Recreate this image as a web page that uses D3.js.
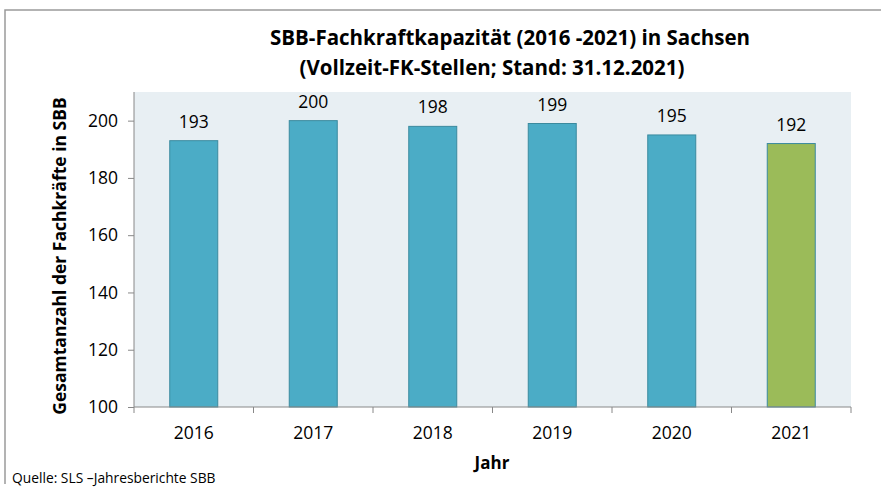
<!DOCTYPE html>
<html>
<head>
<meta charset="utf-8">
<script src="https://cdn.jsdelivr.net/npm/d3@7"></script>
<style>
  body { margin: 0; background: #fff; }
  text { font-family: "Open Sans", sans-serif; fill: #000; }
</style>
</head>
<body>
<svg id="chart" width="881" height="487"></svg>
<script>
// data
const years = ["2016", "2017", "2018", "2019", "2020", "2021"];
const staff = [193, 200, 198, 199, 195, 192];
const yTicks = [100, 120, 140, 160, 180, 200];
const titleLines = ["SBB-Fachkraftkapazität (2016 -2021) in Sachsen", "(Vollzeit-FK-Stellen; Stand: 31.12.2021)"];

const svg = d3.select("#chart");
const plot = { left: 134, right: 851, top: 92, bottom: 407 };

// outer frame (only left + top visible in the crop)
svg.append("path")
  .attr("d", "M5,484V10H881")
  .attr("fill", "none")
  .attr("stroke", "#9a9a9a")
  .attr("stroke-width", 1.5);

let x = d3.scaleBand().domain(years).range([plot.left, plot.right]).paddingInner(0).paddingOuter(0);
let y = d3.scaleLinear().domain([100, 210]).range([plot.bottom, plot.top]);

svg.append("rect")
  .attr("x", plot.left).attr("y", plot.top)
  .attr("width", plot.right - plot.left).attr("height", plot.bottom - plot.top)
  .attr("fill", "#e8eff3");

// bars
const barW = 48;
svg.selectAll(".bar")
  .data(staff)
  .join("rect")
  .attr("class", "bar")
  .attr("x", (d, i) => x(years[i]) + x.bandwidth() / 2 - barW / 2)
  .attr("y", d => y(d))
  .attr("width", barW)
  .attr("height", d => y(100) - y(d))
  .attr("fill", (d, i) => i == years.length - 1 ? "#9bbb59" : "#4bacc6")
  .attr("stroke", "#3b8a9e")
  .attr("stroke-width", 1);

// value labels
svg.selectAll(".val")
  .data(staff)
  .join("text")
  .attr("class", "val")
  .attr("x", (d, i) => x(years[i]) + x.bandwidth() / 2)
  .attr("y", d => y(d) - 13)
  .attr("text-anchor", "middle")
  .style("font-size", "17.5px")
  .text(d => d);

// y axis
const yAxis = svg.append("g")
  .attr("transform", `translate(${plot.left},0)`)
  .call(d3.axisLeft(y).tickValues(yTicks).tickSize(6).tickPadding(10));
yAxis.select(".domain").attr("stroke", "#888").attr("d", `M0,${plot.top}V${plot.bottom}`);
yAxis.selectAll(".tick line").attr("stroke", "#888");
yAxis.selectAll(".tick text").style("font-size", "17.5px").style("font-family", "'Open Sans', sans-serif").attr("fill", "#000");

// x axis: ticks on category boundaries
const xAxis = svg.append("g").attr("transform", `translate(0,${plot.bottom})`);
xAxis.append("line")
  .attr("x1", plot.left).attr("x2", plot.right)
  .attr("stroke", "#888");
const bounds = years.map(d => x(d)).concat([plot.right]);
xAxis.selectAll(".xt")
  .data(bounds)
  .join("line")
  .attr("x1", d => d).attr("x2", d => d)
  .attr("y1", 0).attr("y2", 6)
  .attr("stroke", "#888");
xAxis.selectAll(".xl")
  .data(years)
  .join("text")
  .attr("x", d => x(d) + x.bandwidth() / 2)
  .attr("y", 32)
  .attr("text-anchor", "middle")
  .style("font-size", "17.5px")
  .text(d => d);

// titles
svg.append("text")
  .attr("x", 510).attr("y", 45)
  .attr("text-anchor", "middle")
  .style("font-size", "20.5px").style("font-weight", "bold")
  .text(titleLines[0]);
svg.append("text")
  .attr("x", 492).attr("y", 75)
  .attr("text-anchor", "middle")
  .style("font-size", "20.5px").style("font-weight", "bold")
  .text(titleLines[1]);

svg.append("text")
  .attr("transform", "translate(66,256) rotate(-90)")
  .attr("text-anchor", "middle")
  .style("font-size", "17.5px").style("font-weight", "bold")
  .text("Gesamtanzahl der Fachkräfte in SBB");

svg.append("text")
  .attr("x", 492).attr("y", 469)
  .attr("text-anchor", "middle")
  .style("font-size", "17px").style("font-weight", "bold")
  .text("Jahr");

svg.append("text")
  .attr("x", 12).attr("y", 483)
  .style("font-size", "13.8px")
  .text("Quelle: SLS –Jahresberichte SBB");
</script>
</body>
</html>
